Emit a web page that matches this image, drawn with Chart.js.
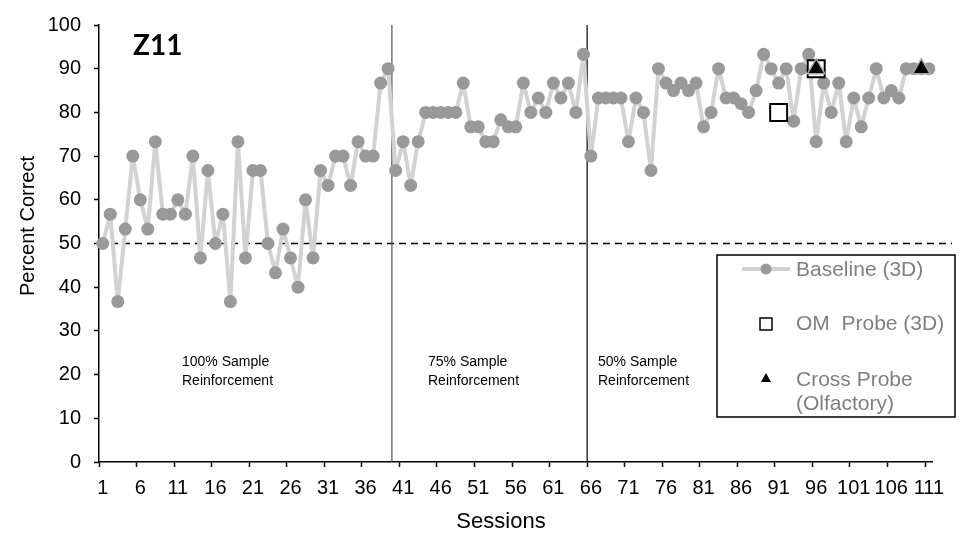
<!DOCTYPE html>
<html>
<head>
<meta charset="utf-8">
<script src="https://cdn.jsdelivr.net/npm/chart.js@4.4.1/dist/chart.umd.min.js"></script>
<style>
  body { margin: 0; background: #fff; }
  #wrap { width: 964px; height: 536px; }
</style>
</head>
<body>
<div id="wrap"><canvas id="grafico" width="964" height="536"></canvas></div>
<script>
// sessoes 1..111
const sessions = Array.from({ length: 111 }, (_, i) => String(i + 1));

// linha de base (3D), percent correct por sessao
const baseline = [
  50, 56.7, 36.7, 53.3, 70, 60, 53.3, 73.3, 56.7, 56.7,
  60, 56.7, 70, 46.7, 66.7, 50, 56.7, 36.7, 73.3, 46.7,
  66.7, 66.7, 50, 43.3, 53.3, 46.7, 40, 60, 46.7, 66.7,
  63.3, 70, 70, 63.3, 73.3, 70, 70, 86.7, 90, 66.7,
  73.3, 63.3, 73.3, 80, 80, 80, 80, 80, 86.7, 76.7,
  76.7, 73.3, 73.3, 78.3, 76.7, 76.7, 86.7, 80, 83.3, 80,
  86.7, 83.3, 86.7, 80, 93.3, 70, 83.3, 83.3, 83.3, 83.3,
  73.3, 83.3, 80, 66.7, 90, 86.7, 85, 86.7, 85, 86.7,
  76.7, 80, 90, 83.3, 83.3, 82, 80, 85, 93.3, 90,
  86.7, 90, 78, 90, 93.3, 73.3, 86.7, 80, 86.7, 73.3,
  83.3, 76.7, 83.3, 90, 83.3, 85, 83.3, 90, 90, 90, 90
];

// sondas
const omProbeSessions = [91, 96];
const omProbeValues = [80, 90];
const crossProbeSessions = [96, 110];
const crossProbeValues = [90, 90];

// inicio de cada fase (sessao)
const phaseStarts = [40, 66];
const phaseNames = [
  ['100% Sample', 'Reinforcement'],
  ['75% Sample', 'Reinforcement'],
  ['50% Sample', 'Reinforcement']
];

const yTicks = [0, 10, 20, 30, 40, 50, 60, 70, 80, 90, 100];
const chanceLevel = 50;

function montarSerie(sessoes, valores) {
  const serie = sessions.map(() => null);
  sessoes.forEach((s, i) => { serie[s - 1] = valores[i]; });
  return serie;
}

Chart.defaults.font.family = "'Liberation Sans', Arial, sans-serif";
Chart.defaults.color = '#000';

const extras = {
  id: 'extras',
  beforeDatasetsDraw(chart) {
    const { ctx, chartArea, scales } = chart;
    const x = scales.x, y = scales.y;
    ctx.save();
    // linha tracejada em 50%
    const y50 = y.getPixelForValue(chanceLevel);
    ctx.strokeStyle = '#000';
    ctx.lineWidth = 1.5;
    ctx.setLineDash([7, 5]);
    ctx.beginPath();
    ctx.moveTo(chartArea.left, y50);
    ctx.lineTo(952, y50);
    ctx.stroke();
    ctx.setLineDash([]);
    // linhas de mudanca de fase
    const cores = ['#555', '#000'];
    phaseStarts.forEach((s, i) => {
      const px = (x.getPixelForValue(s - 1) + x.getPixelForValue(s - 2)) / 2;
      ctx.strokeStyle = cores[i];
      ctx.lineWidth = 1.2;
      ctx.beginPath();
      ctx.moveTo(px, chartArea.top);
      ctx.lineTo(px, chartArea.bottom);
      ctx.stroke();
    });
    ctx.restore();
  },
  afterDraw(chart) {
    const { ctx } = chart;
    ctx.save();
    // textos das fases
    ctx.fillStyle = '#000';
    ctx.font = "14px 'Liberation Sans', Arial, sans-serif";
    ctx.textBaseline = 'middle';
    ctx.textAlign = 'left';
    const xs = [182, 428, 598];
    phaseNames.forEach((linhas, i) => {
      linhas.forEach((t, j) => ctx.fillText(t, xs[i], 362 + j * 19));
    });
    // Z11
    ctx.font = "bold 28px Lato, 'Liberation Sans', sans-serif";
    ctx.fillText('Z11', 133, 46);
    // titulos dos eixos
    ctx.font = "22px 'Liberation Sans', Arial, sans-serif";
    ctx.textAlign = 'center';
    ctx.fillText('Sessions', 501, 522);
    ctx.save();
    ctx.translate(28, 226);
    ctx.rotate(-Math.PI / 2);
    ctx.font = "20px 'Liberation Sans', Arial, sans-serif";
    ctx.fillText('Percent Correct', 0, 0);
    ctx.restore();
    // legenda
    ctx.strokeStyle = '#000';
    ctx.lineWidth = 1.5;
    ctx.strokeRect(717, 255, 238, 162);
    ctx.strokeStyle = '#d0d0d0';
    ctx.lineWidth = 4;
    ctx.beginPath();
    ctx.moveTo(742, 269);
    ctx.lineTo(790, 269);
    ctx.stroke();
    ctx.fillStyle = '#999';
    ctx.beginPath();
    ctx.arc(766, 269, 5.5, 0, Math.PI * 2);
    ctx.fill();
    ctx.fillStyle = '#fff';
    ctx.strokeStyle = '#000';
    ctx.lineWidth = 1.5;
    ctx.fillRect(760, 318, 12, 12);
    ctx.strokeRect(760, 318, 12, 12);
    ctx.fillStyle = '#000';
    ctx.beginPath();
    ctx.moveTo(766, 373);
    ctx.lineTo(771, 382);
    ctx.lineTo(761, 382);
    ctx.closePath();
    ctx.fill();
    ctx.fillStyle = '#7f7f7f';
    ctx.font = "21px 'Liberation Sans', Arial, sans-serif";
    ctx.textAlign = 'left';
    ctx.fillText('Baseline (3D)', 796, 270);
    ctx.fillText('OM  Probe (3D)', 796, 324);
    ctx.fillText('Cross Probe', 796, 380);
    ctx.fillText('(Olfactory)', 796, 404);
    ctx.restore();
  }
};

new Chart(document.getElementById('grafico').getContext('2d'), {
  type: 'line',
  data: {
    labels: sessions,
    datasets: [
      {
        label: 'Baseline (3D)',
        data: baseline,
        order: 3,
        borderColor: '#d2d2d2',
        borderWidth: 4,
        borderJoinStyle: 'round',
        borderCapStyle: 'round',
        pointRadius: 6.5,
        pointBackgroundColor: '#999',
        pointBorderWidth: 0,
        tension: 0
      },
      {
        label: 'OM  Probe (3D)',
        data: montarSerie(omProbeSessions, omProbeValues),
        order: 2,
        showLine: false,
        pointStyle: 'rect',
        pointRadius: 12,
        pointBackgroundColor: '#fff',
        pointBorderColor: '#000',
        pointBorderWidth: 2
      },
      {
        label: 'Cross Probe (Olfactory)',
        data: montarSerie(crossProbeSessions, crossProbeValues),
        order: 1,
        showLine: false,
        pointStyle: 'triangle',
        pointRadius: 10,
        pointBackgroundColor: '#000',
        pointBorderColor: '#aaa',
        pointBorderWidth: 1.5
      }
    ]
  },
  options: {
    responsive: false,
    animation: false,
    devicePixelRatio: 1,
    layout: { padding: { left: 0, right: 31.4, top: 18.5, bottom: 0 } },
    plugins: {
      legend: { display: false },
      tooltip: { enabled: false }
    },
    scales: {
      x: {
        type: 'category',
        offset: true,
        afterFit(scale) { scale.height = 74; },
        border: { display: true, color: '#000', width: 1.5 },
        grid: {
          offset: true,
          drawOnChartArea: false,
          tickLength: 5,
          tickWidth: 1.5,
          tickColor: (c) => (c.index % 5 === 0 && c.index < sessions.length) ? '#000' : 'rgba(0,0,0,0)'
        },
        ticks: {
          autoSkip: false,
          maxRotation: 0,
          minRotation: 0,
          padding: 9,
          font: { size: 20 },
          callback: (v, i) => (i % 5 === 0 ? sessions[i] : '')
        }
      },
      y: {
        min: 0,
        max: 100,
        afterFit(scale) { scale.width = 99; },
        afterBuildTicks(scale) { scale.ticks = yTicks.map(v => ({ value: v })); },
        border: { display: true, color: '#000', width: 1.5 },
        grid: {
          drawOnChartArea: false,
          tickLength: 5,
          tickWidth: 1.5,
          tickColor: '#000'
        },
        ticks: {
          padding: 13,
          font: { size: 20 }
        }
      }
    }
  },
  plugins: [extras]
});
</script>
</body>
</html>
